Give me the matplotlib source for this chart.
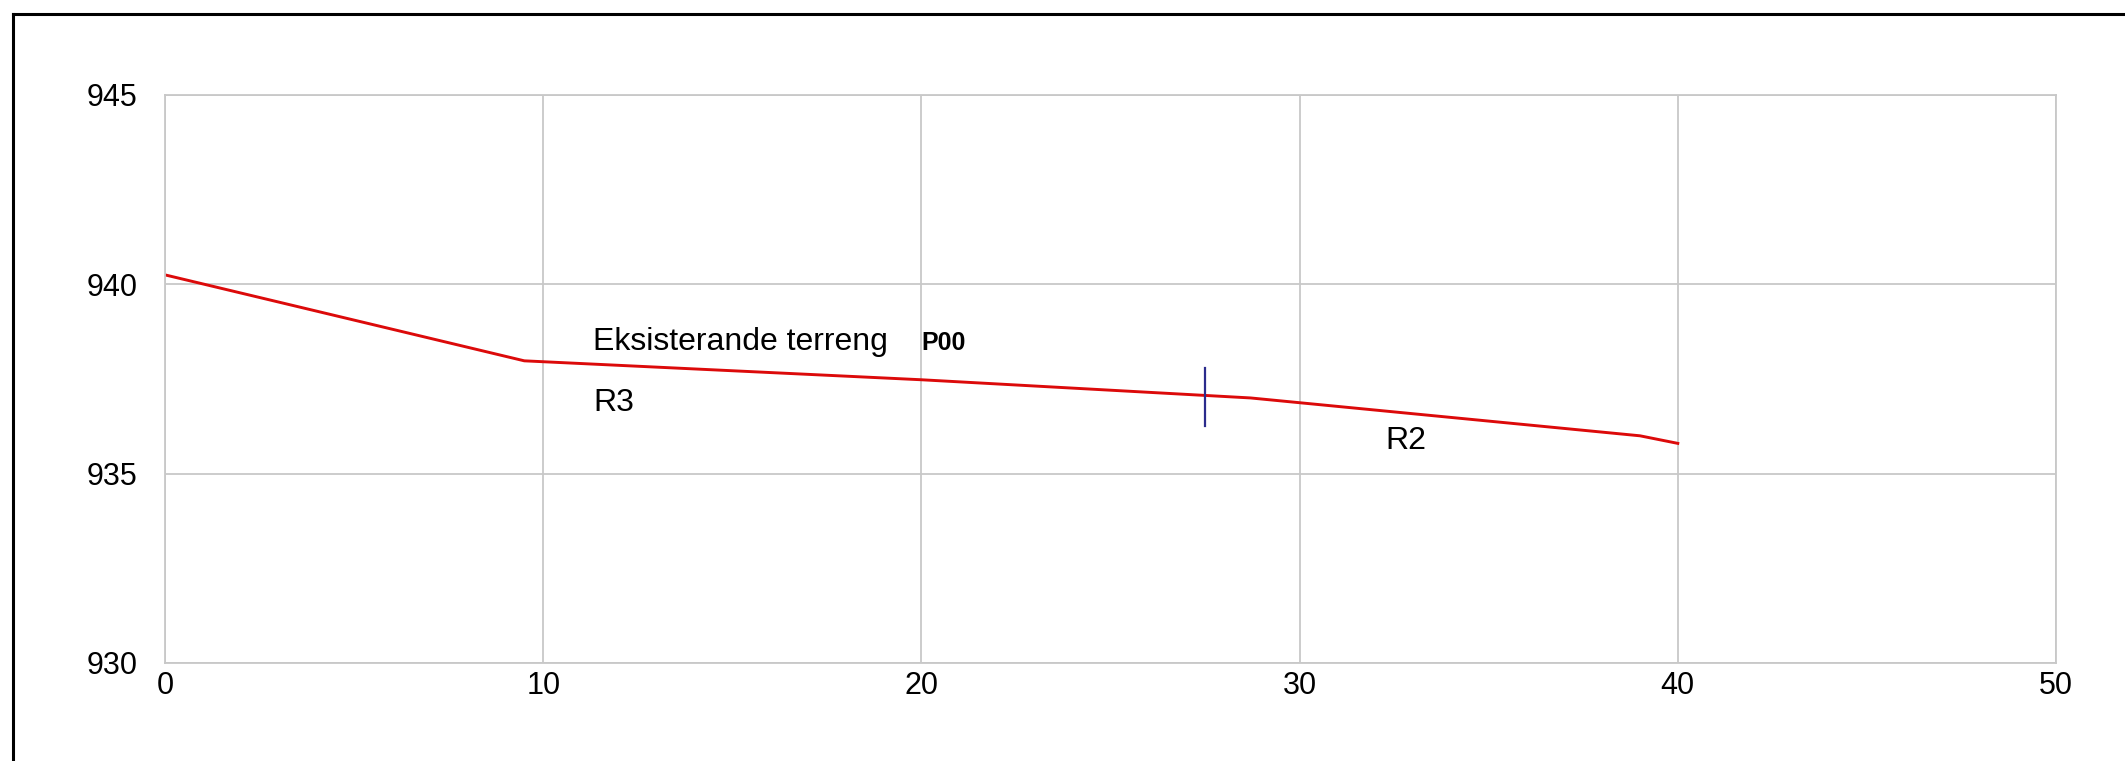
import matplotlib
matplotlib.use("Agg")
import matplotlib.pyplot as plt
from matplotlib.lines import Line2D

# ---- data ----
terrain_x = [0, 9.5, 20, 28.7, 39, 40]
terrain_y = [940.25, 937.98, 937.48, 937.0, 936.0, 935.8]
marker_x = 27.5
marker_y = [936.25, 937.8]
x_ticks = [0, 10, 20, 30, 40, 50]
y_ticks = [930, 935, 940, 945]
labels = [("Eksisterande terreng", 11.32, 938.47, "normal"),
          ("P00", 20.0, 938.45, "bold"),
          ("R3", 11.32, 936.87, "normal"),
          ("R2", 32.26, 935.86, "normal")]

plt.rcParams['font.family'] = ['Liberation Sans', 'DejaVu Sans']

W, H = 2125, 761
fig = plt.figure(figsize=(W / 100, H / 100), dpi=100)
fig.patch.set_facecolor('white')

ax = fig.add_axes([165 / W, 1 - 663 / H, (2056 - 165) / W, (663 - 95) / H])
ax.set_xlim(0, 50)
ax.set_ylim(930, 945)
ax.set_xticks(x_ticks)
ax.set_yticks(y_ticks)
ax.grid(True, color='#c8c8c8', linewidth=1.3)
ax.set_axisbelow(True)
for s in ax.spines.values():
    s.set_color('#c8c8c8')
    s.set_linewidth(1.3)
ax.tick_params(length=0, labelsize=22)
ax.tick_params(axis='x', pad=6)
ax.tick_params(axis='y', pad=20)

ax.plot(terrain_x, terrain_y, color='#dc0a0a', linewidth=2.1, solid_joinstyle='round')
ax.plot([marker_x, marker_x], marker_y, color='#2b2b8c', linewidth=1.6)

for txt, x, y, w in labels:
    ax.text(x, y, txt, fontsize=23 if w == 'normal' else 18, fontweight=w,
            ha='left', va='center', color='black')

# outer frame (cut off at right / bottom)
fig.add_artist(Line2D([13 / W, 13 / W], [0, 1 - 14 / H], color='black', linewidth=2.2,
                      transform=fig.transFigure))
fig.add_artist(Line2D([13 / W, 1], [1 - 14 / H, 1 - 14 / H], color='black', linewidth=2.2,
                      transform=fig.transFigure))

fig.savefig('out.png', dpi=100)
